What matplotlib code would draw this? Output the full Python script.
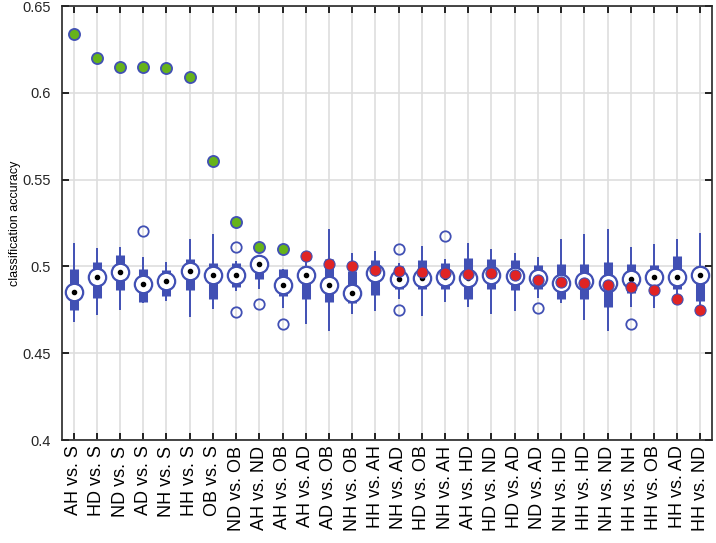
import matplotlib
matplotlib.use('Agg')
import matplotlib.pyplot as plt

plt.rcParams['font.family'] = ['Liberation Sans', 'DejaVu Sans']

labels = ["AH vs. S", "HD vs. S", "ND vs. S", "AD vs. S", "NH vs. S", "HH vs. S", "OB vs. S",
          "ND vs. OB", "AH vs. ND", "AH vs. OB", "AH vs. AD", "AD vs. OB", "NH vs. OB", "HH vs. AH",
          "NH vs. AD", "HD vs. OB", "NH vs. AH", "AH vs. HD", "HD vs. ND", "HD vs. AD", "ND vs. AD",
          "NH vs. HD", "HH vs. HD", "NH vs. ND", "HH vs. NH", "HH vs. OB", "HH vs. AD", "HH vs. ND"]

# boxplot summary of the permutation runs
medians = [0.4854, 0.4937, 0.4969, 0.4896, 0.4915, 0.4975, 0.4952, 0.4948, 0.5015, 0.4894,
           0.4950, 0.4892, 0.4848, 0.4960, 0.4925, 0.4931, 0.4938, 0.4931, 0.4948, 0.4946,
           0.4935, 0.4906, 0.4915, 0.4906, 0.4929, 0.4940, 0.4940, 0.4952]
q1 = [0.4746, 0.4817, 0.4863, 0.4796, 0.4829, 0.4863, 0.4815, 0.4883, 0.4925, 0.4829,
      0.4814, 0.4796, 0.4790, 0.4833, 0.4867, 0.4867, 0.4867, 0.4810, 0.4867, 0.4863,
      0.4871, 0.4810, 0.4815, 0.4765, 0.4844, 0.4839, 0.4871, 0.4800]
q3 = [0.4983, 0.5025, 0.5063, 0.4983, 0.4977, 0.5044, 0.5017, 0.5017, 0.5050, 0.4983,
      0.5005, 0.5040, 0.4975, 0.5035, 0.5000, 0.5035, 0.5017, 0.5050, 0.5040, 0.5036,
      0.5008, 0.5016, 0.5012, 0.5027, 0.5016, 0.5010, 0.5059, 0.5002]
whisker_lo = [0.4677, 0.4719, 0.4748, 0.4790, 0.4800, 0.4710, 0.4756, 0.4858, 0.4871, 0.4760,
              0.4666, 0.4630, 0.4723, 0.4742, 0.4810, 0.4713, 0.4794, 0.4765, 0.4723, 0.4742,
              0.4820, 0.4787, 0.4690, 0.4630, 0.4768, 0.4762, 0.4839, 0.4755]
whisker_hi = [0.5137, 0.5108, 0.5110, 0.5054, 0.5025, 0.5156, 0.5185, 0.5030, 0.5065, 0.4983,
              0.5050, 0.5217, 0.5079, 0.5088, 0.5020, 0.5117, 0.5040, 0.5137, 0.5102, 0.5079,
              0.5054, 0.5160, 0.5185, 0.5213, 0.5111, 0.5131, 0.5156, 0.5190]
outliers = [[], [], [], [0.5204], [], [], [], [0.5111, 0.4737], [0.4781], [0.4670],
            [], [], [], [], [0.5098, 0.4748], [], [0.5175], [], [], [],
            [0.4762], [], [], [], [0.4666], [], [], []]

# true classification accuracy (significant = green, not significant = red)
accuracy = [0.634, 0.620, 0.615, 0.615, 0.614, 0.609, 0.561, 0.5258, 0.511, 0.5102,
            0.506, 0.5012, 0.5002, 0.4977, 0.4973, 0.4967, 0.4963, 0.4954, 0.4960, 0.4952,
            0.4921, 0.4912, 0.4906, 0.4890, 0.4881, 0.4862, 0.4810, 0.4748]
n_significant = 10

blue = '#4150b4'
green = '#66b31a'
red = '#e02424'

fig = plt.figure(figsize=(7.16, 5.43), dpi=100)
ax = fig.add_axes([62 / 716, 103 / 543, 650 / 716, 434 / 543])

x = list(range(1, len(labels) + 1))

ax.vlines(x, whisker_lo, whisker_hi, color=blue, lw=1.4, zorder=3)
ax.vlines(x, q1, q3, color=blue, lw=6.5, zorder=3)
ax.plot(x, medians, 'o', ms=12.5, mfc='white', mec=blue, mew=1.6, ls='none', zorder=4)
ax.plot(x, medians, 'o', ms=3, color='black', ls='none', zorder=5)

for xi, outs in zip(x, outliers):
    if outs:
        ax.plot([xi] * len(outs), outs, 'o', ms=7.5, mfc='none', mec=blue, mew=1.3, ls='none', zorder=4)

ax.plot(x[:n_significant], accuracy[:n_significant], 'o', ms=8, mfc=green, mec=blue, mew=1.3,
        ls='none', zorder=6)
ax.plot(x[n_significant:], accuracy[n_significant:], 'o', ms=8, mfc=red, mec=blue, mew=0.8,
        ls='none', zorder=6)

ax.set_xlim(0.5, len(labels) + 0.5)
ax.set_ylim(0.4, 0.65)
ax.set_yticks([0.4, 0.45, 0.5, 0.55, 0.6, 0.65])
ax.set_yticklabels(['0.4', '0.45', '0.5', '0.55', '0.6', '0.65'])
ax.set_xticks(x)
ax.set_xticklabels(labels, rotation=90, fontsize=13)
ax.tick_params(axis='y', labelsize=10.5, pad=8, labelcolor='#262626')
ax.tick_params(axis='x', pad=4)
ax.tick_params(direction='in', top=True, right=True, length=5, width=1.2)
ax.set_ylabel('classification accuracy', fontsize=9, labelpad=1)
ax.grid(True, color='#dedede', lw=1.2)
ax.set_axisbelow(True)
for s in ax.spines.values():
    s.set_linewidth(1.2)
    s.set_color('#262626')

plt.savefig('out.png', dpi=100)
plt.close(fig)
